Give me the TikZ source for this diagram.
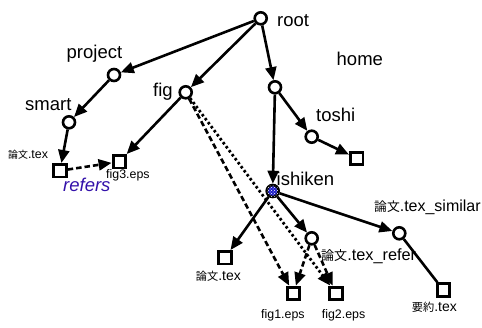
\documentclass[tikz,border=0pt]{standalone}
\usepackage{fontspec}
\setmainfont{Liberation Sans}
\newfontfamily\cjk{Noto Sans CJK JP}[Scale=0.8]
\usetikzlibrary{arrows.meta,patterns}
\definecolor{refblue}{RGB}{51,17,170}
\definecolor{nodeblue}{RGB}{30,30,200}

\tikzset{
  dirnode/.style={circle, draw, line width=2.6pt, minimum size=12pt, inner sep=0pt, fill=white},
  filenode/.style={rectangle, draw, line width=2.9pt, minimum size=12.5pt, inner sep=0pt, fill=white},
  homenode/.style={circle, draw, line width=2.6pt, minimum size=12pt, inner sep=0pt,
    fill=nodeblue, postaction={pattern=crosshatch dots, pattern color=white}},
  link/.style={line width=2.6pt, -{Triangle[length=13pt,width=11pt]}},
  plainlink/.style={line width=2.6pt},
  dashlink/.style={link, dash pattern=on 5.5pt off 3pt},
  dotlink/.style={link, line width=2.8pt, dash pattern=on 2.5pt off 2.5pt},
  biglabel/.style={anchor=base west, inner sep=0pt, font=\fontsize{18.5}{20}\selectfont},
  midlabel/.style={anchor=base west, inner sep=0pt, font=\fontsize{16.3}{18}\selectfont},
  smalllabel/.style={anchor=base west, inner sep=0pt, font=\fontsize{14}{16}\selectfont},
  tinylabel/.style={anchor=base west, inner sep=0pt, font=\fontsize{12.4}{14}\selectfont},
}

\begin{document}
\begin{tikzpicture}[x=1pt, y=-1pt]
\useasboundingbox (0,0) rectangle (482,327);
\clip (0,0) rectangle (482,327);

% directories
\node[dirnode] (root) at (260.7,18.3) {};
\node[dirnode] (project) at (114,75) {};
\node[dirnode] (fig) at (185.7,92.3) {};
\node[dirnode] (home) at (275,87.3) {};
\node[dirnode] (toshi) at (311.7,136.7) {};
\node[dirnode] (smart) at (69,122.3) {};
\node[homenode] (ishiken) at (272.7,191) {};
\node[dirnode] (refer) at (311.7,238.3) {};
\node[dirnode] (similar) at (399.3,233.3) {};

% files
\node[filenode] (toshifile) at (356.7,158.3) {};
\node[filenode] (paper) at (60,170.7) {};
\node[filenode] (fig3) at (119.3,161.7) {};
\node[filenode] (paper2) at (225,257.7) {};
\node[filenode] (fig1) at (293.3,293.3) {};
\node[filenode] (fig2) at (336,293.3) {};
\node[filenode] (summary) at (443.3,290) {};

% tree edges
\draw[link] (root) -- (project);
\draw[link] (root) -- (fig);
\draw[link] (root) -- (home);
\draw[link] (home) -- (toshi);
\draw[link] (toshi) -- (toshifile);
\draw[link] (home) -- (ishiken);
\draw[link] (project) -- (smart);
\draw[link] (smart) -- (paper);
\draw[link] (fig) -- (fig3);
\draw[link] (ishiken) -- (paper2);
\draw[link] (ishiken) -- (refer);
\draw[link] (ishiken) -- (similar);
\draw[plainlink] (similar) -- (summary);

% references
\draw[dashlink] (paper) -- (fig3);
\draw[dashlink] (fig) -- (fig1);
\draw[dotlink] (fig) -- (fig2);
\draw[dashlink] (refer) -- (fig1);
\draw[dashlink] (refer) -- (fig2);

% labels
\node[biglabel] (lroot) at (277,26) {root};
\node[biglabel] (lhome) at (336.5,65) {home};
\node[biglabel] (ltoshi) at (316,121.7) {toshi};
\node[biglabel] (lishiken) at (276.5,185) {ishiken};
\node[biglabel] (lproject) at (66.5,58) {project};
\node[biglabel] (lfig) at (153,96) {fig};
\node[biglabel] (lsmart) at (25,110) {smart};
\node[tinylabel] (lpaper) at (8,158) {{\cjk 論文}.tex};
\node[tinylabel] (lfig3) at (106,178) {fig3.eps};
\node[biglabel, font=\fontsize{18.5}{20}\selectfont\itshape, text=refblue] (lrefers) at (63,191.5) {refers};
\node[midlabel, font=\fontsize{16}{18}\selectfont] (lsimilar) at (374,211) {{\cjk 論文}.tex\_similar};
\node[midlabel] (lrefer) at (321,260) {{\cjk 論文}.tex\_refer};
\node[smalllabel] (lpaper2) at (195.7,280) {{\cjk 論文}.tex};
\node[tinylabel] (lfig1) at (261,318) {fig1.eps};
\node[tinylabel] (lfig2) at (321.7,318) {fig2.eps};
\node[smalllabel] (lsummary) at (411.7,311) {{\cjk 要約}.tex};
\end{tikzpicture}
\end{document}
